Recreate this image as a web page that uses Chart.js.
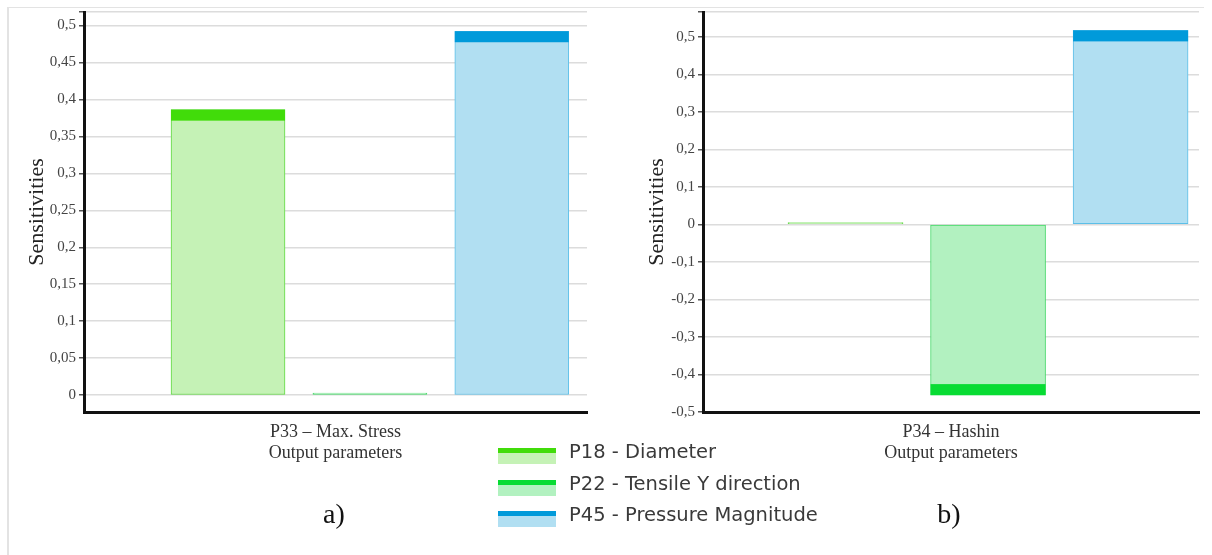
<!DOCTYPE html>
<html>
<head>
<meta charset="utf-8">
<script src="https://cdn.jsdelivr.net/npm/chart.js@4"></script>
<style>
    body { margin: 0; background: #fff; }
    #page { position: relative; width: 1212px; height: 555px; overflow: hidden; background: #fff; }
    #frame { position: absolute; left: 7px; top: 7px; width: 1195px; height: 560px; border-top: 1px solid #e3e3e3; border-left: 2px solid #e3e3e3; }
    canvas { position: absolute; top: 0; }
    #chartA { left: 0; }
    #chartB { left: 620px; }
    .legend-row { position: absolute; left: 498px; height: 31px; width: 340px; }
    .swatch { position: absolute; left: 0; top: 8px; width: 58px; }
    .swatch .cap { height: 5px; }
    .swatch .fill { height: 11px; }
    .legend-text { position: absolute; left: 71px; top: 0; line-height: 20px; white-space: nowrap;
        font: 19.5px 'DejaVu Sans', sans-serif; color: #3a3a3a; }
    .caption { position: absolute; top: 498px; width: 80px; text-align: center;
        font: 28px 'Liberation Serif', serif; color: #111; }
</style>
</head>
<body>
<div id="page">
    <div id="frame"></div>
    <canvas id="chartA" width="610" height="472"></canvas>
    <canvas id="chartB" width="592" height="472"></canvas>
    <div id="legend"></div>
    <div class="caption" style="left:294px">a)</div>
    <div class="caption" style="left:909px">b)</div>
</div>
<script>
// parameters (one bar per parameter in each chart)
const params = ['P18 - Diameter', 'P22 - Tensile Y direction', 'P45 - Pressure Magnitude'];
const slots = [1, 2, 3];

// sensitivities
const maxStress = [0.386, 0.003, 0.492];
const hashin = [0.005, -0.455, 0.517];

// y tick values
const stressTicks = [0, 0.05, 0.1, 0.15, 0.2, 0.25, 0.3, 0.35, 0.4, 0.45, 0.5];
const hashinTicks = [-0.5, -0.4, -0.3, -0.2, -0.1, 0, 0.1, 0.2, 0.3, 0.4, 0.5];

const capColors = ['#41dc0a', '#07dc33', '#009ada'];
const fillColors = ['#c5f2b6', '#b2f1c0', '#b1dff2'];
const lineColors = ['#5fd940', '#45d868', '#5cbfe8'];

const fmt = v => String(Math.round(v * 100) / 100).replace('.', ',');

// dark stripe at the value end of each bar
const capPlugin = {
    id: 'caps',
    afterDatasetsDraw(chart) {
        const ctx = chart.ctx;
        chart.data.datasets.forEach((ds, i) => {
            chart.getDatasetMeta(i).data.forEach(bar => {
                const h = bar.base - bar.y;
                if (Math.abs(h) < 20) return;
                ctx.save();
                ctx.fillStyle = ds.capColor;
                ctx.fillRect(bar.x - bar.width / 2, h > 0 ? bar.y : bar.y - 11, bar.width, 11);
                ctx.restore();
            });
        });
    }
};

function makeChart(id, values, o) {
    return new Chart(document.getElementById(id), {
        type: 'bar',
        data: {
            datasets: params.map((p, i) => ({
                label: p,
                data: [{ x: slots[i], y: values[i] }],
                backgroundColor: fillColors[i],
                borderColor: lineColors[i],
                borderWidth: 1,
                borderSkipped: false,
                barThickness: o.barWidth,
                grouped: false,
                capColor: capColors[i]
            }))
        },
        options: {
            responsive: false,
            animation: false,
            layout: { padding: { top: 12, right: o.padRight, left: 0, bottom: 0 } },
            plugins: { legend: { display: false }, tooltip: { enabled: false } },
            scales: {
                x: {
                    type: 'linear',
                    offset: false,
                    min: o.xMin,
                    max: o.xMax,
                    ticks: { display: false },
                    grid: { display: false },
                    border: { color: '#111', width: 3 },
                    title: {
                        display: true,
                        text: [o.title, 'Output parameters'],
                        color: '#333',
                        font: { family: 'Liberation Serif', size: 18, lineHeight: 1.17 },
                        padding: { top: 0, bottom: 8 }
                    },
                    afterFit: s => { s.height = 60; }
                },
                y: {
                    min: o.yMin,
                    max: o.yMax,
                    afterBuildTicks: s => {
                        // labelled ticks plus an unlabelled line at the top edge
                        s.ticks = o.ticks.concat([o.yMax]).map(v => ({ value: v }));
                    },
                    ticks: {
                        autoSkip: false,
                        padding: 3,
                        color: '#444',
                        font: { family: 'Liberation Serif', size: 15 },
                        callback: v => o.ticks.includes(v) ? fmt(v) : ''
                    },
                    grid: { color: '#dcdcdc', lineWidth: 1.5, tickLength: 5, tickColor: '#555' },
                    border: { color: '#111', width: 3 },
                    title: {
                        display: true,
                        text: 'Sensitivities',
                        color: '#222',
                        font: { family: 'Liberation Serif', size: 22 },
                        padding: { top: 24 }
                    },
                    afterFit: s => { s.width = o.axisLeft; }
                }
            }
        },
        plugins: [capPlugin]
    });
}

makeChart('chartA', maxStress, {
    title: 'P33 – Max. Stress', barWidth: 114, padRight: 23, axisLeft: 84,
    xMin: -0.015, xMax: 3.53, yMin: -0.0227, yMax: 0.518, ticks: stressTicks
});
makeChart('chartB', hashin, {
    title: 'P34 – Hashin', barWidth: 115, padRight: 13, axisLeft: 83,
    xMin: 0, xMax: 3.48, yMin: -0.5, yMax: 0.566, ticks: hashinTicks
});

// shared legend
const legend = document.getElementById('legend');
params.forEach((p, i) => {
    const row = document.createElement('div');
    row.className = 'legend-row';
    row.style.top = (440 + 31.5 * i) + 'px';
    row.innerHTML = `
        <div class="swatch"><div class="cap" style="background:${capColors[i]}"></div><div class="fill" style="background:${fillColors[i]}"></div></div>
        <div class="legend-text">${p}</div>`;
    legend.appendChild(row);
});
</script>
</body>
</html>
